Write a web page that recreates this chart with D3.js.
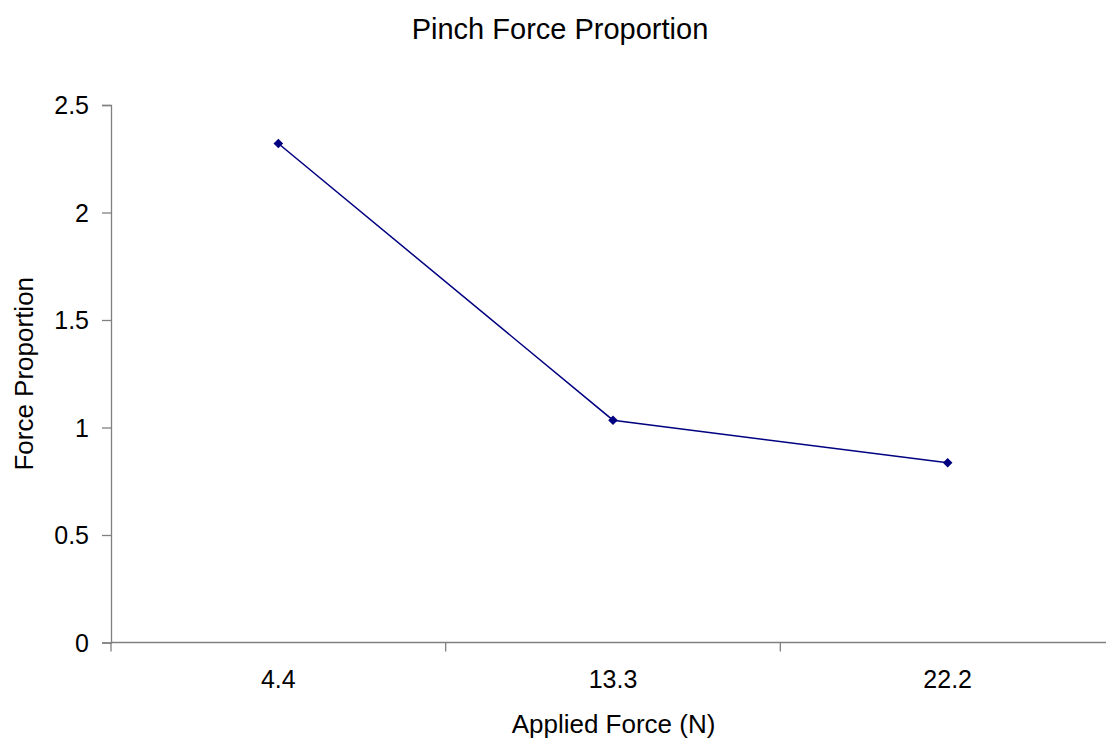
<!DOCTYPE html>
<html>
<head>
<meta charset="utf-8">
<script src="https://cdn.jsdelivr.net/npm/d3@7"></script>
<style>
  html, body { margin: 0; padding: 0; background: #fff; }
  svg { display: block; font-family: "Liberation Sans", Arial, sans-serif; }
</style>
</head>
<body>
<svg id="chart" width="1106" height="740"></svg>
<script>
// Applied force categories and measured pinch force proportion
const categories = ["4.4", "13.3", "22.2"];
const proportions = [2.321, 1.034, 0.836];
const yTicks = [0, 0.5, 1, 1.5, 2, 2.5];

const svg = d3.select("#chart");
const margin = { left: 111, top: 105, right: 1115, bottom: 642.5 };

const x = d3.scaleBand().domain(categories).range([margin.left, margin.right]);
const y = d3.scaleLinear().domain([0, 2.5]).range([margin.bottom, margin.top]);

const axisColor = "#808080";
const tickFont = 25;

// Y axis
const yAxis = svg.append("g")
  .attr("transform", `translate(${margin.left},0)`)
  .call(d3.axisLeft(y).tickValues(yTicks).tickSize(9).tickPadding(13)
    .tickFormat(d => String(d)));
yAxis.select(".domain").attr("stroke", axisColor).attr("stroke-width", 1.3);
yAxis.selectAll(".tick line").attr("stroke", axisColor).attr("stroke-width", 1.3);
yAxis.selectAll("text")
  .attr("font-size", tickFont)
  .attr("fill", "#000")
  .attr("dy", "0.34em")
  .attr("font-family", "Liberation Sans, Arial, sans-serif");

// X axis with ticks at category boundaries
const xAxisG = svg.append("g").attr("transform", `translate(0,${margin.bottom})`);
xAxisG.append("line")
  .attr("x1", margin.left).attr("x2", margin.right)
  .attr("stroke", axisColor).attr("stroke-width", 1.3);
const boundaries = categories.map(c => x(c)).concat([x(categories[categories.length - 1]) + x.bandwidth()]);
xAxisG.selectAll(".xtick").data(boundaries).join("line")
  .attr("class", "xtick")
  .attr("x1", d => d).attr("x2", d => d)
  .attr("y1", 0).attr("y2", 9)
  .attr("stroke", axisColor).attr("stroke-width", 1.3);
xAxisG.selectAll(".xlabel").data(categories).join("text")
  .attr("class", "xlabel")
  .attr("x", d => x(d) + x.bandwidth() / 2)
  .attr("y", 45.5)
  .attr("text-anchor", "middle")
  .attr("font-size", tickFont)
  .text(d => d);

// Series line
const pts = categories.map((c, i) => [x(c) + x.bandwidth() / 2, y(proportions[i])]);
svg.append("path")
  .attr("d", d3.line()(pts))
  .attr("fill", "none")
  .attr("stroke", "#000080")
  .attr("stroke-width", 1.5);

// Diamond markers
svg.selectAll(".marker").data(pts).join("path")
  .attr("class", "marker")
  .attr("transform", d => `translate(${d[0]},${d[1]}) rotate(45)`)
  .attr("d", "M-3.4,-3.4H3.4V3.4H-3.4Z")
  .attr("fill", "#000080");

// Title and axis titles
svg.append("text")
  .attr("x", 560).attr("y", 39)
  .attr("text-anchor", "middle")
  .attr("font-size", 29)
  .text("Pinch Force Proportion");

svg.append("text")
  .attr("x", 613.5).attr("y", 733)
  .attr("text-anchor", "middle")
  .attr("font-size", 26)
  .text("Applied Force (N)");

svg.append("text")
  .attr("transform", `translate(33,${(margin.top + margin.bottom) / 2}) rotate(-90)`)
  .attr("text-anchor", "middle")
  .attr("font-size", 26)
  .text("Force Proportion");
</script>
</body>
</html>
